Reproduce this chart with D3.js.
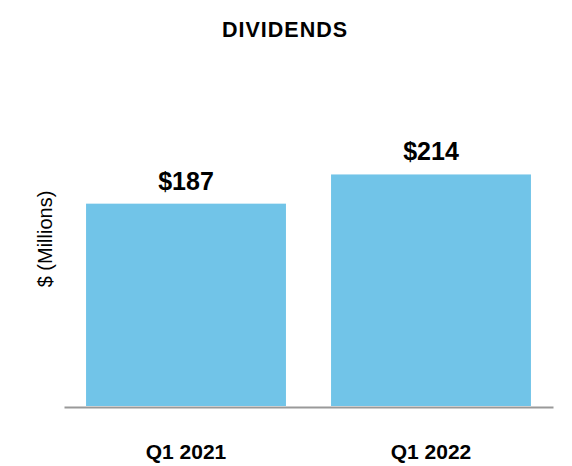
<!DOCTYPE html>
<html><head><meta charset="utf-8">
<script src="https://cdn.jsdelivr.net/npm/d3@7"></script>
<style>body{margin:0;background:#fff}svg{display:block;font-family:"Liberation Sans",Arial,sans-serif}</style>
</head><body>
<svg id="c" width="572" height="466"></svg>
<script>
const categories = ["Q1 2021", "Q1 2022"];
const values = [187, 214];
const valueLabels = ["$187", "$214"];
const title = "DIVIDENDS";
const yLabel = "$ (Millions)";

const svg = d3.select("#c");
const x = d3.scaleBand().domain(categories).range([64, 553]).paddingInner(0.184).paddingOuter(0.09);
const y = d3.scaleLinear().domain([0, 300]).range([406, 81.4]);

svg.append("text").attr("x", 285).attr("y", 37.3).attr("text-anchor", "middle")
  .attr("font-size", 21.5).attr("letter-spacing", 1).attr("font-weight", "bold").attr("fill", "#000").text(title);

svg.selectAll("rect.bar").data(values).join("rect").attr("class", "bar")
  .attr("x", (d, i) => x(categories[i])).attr("width", x.bandwidth())
  .attr("y", d => y(d)).attr("height", d => y(0) - y(d)).attr("fill", "#71C4E8");

svg.selectAll("text.val").data(values).join("text").attr("class", "val")
  .attr("x", (d, i) => x(categories[i]) + x.bandwidth() / 2).attr("y", d => y(d) - 14)
  .attr("text-anchor", "middle").attr("font-size", 25).attr("font-weight", "bold").attr("fill", "#000")
  .text((d, i) => valueLabels[i]);

const xAxis = svg.append("g").attr("transform", "translate(0,407)")
  .call(d3.axisBottom(x).tickSize(0).tickPadding(37));
xAxis.select(".domain").attr("stroke", "#999").attr("stroke-width", 2);
xAxis.selectAll("text").attr("font-size", 21).attr("font-weight", "bold").attr("fill", "#000")
  .attr("font-family", "'Liberation Sans', Arial, sans-serif");

svg.append("text").attr("transform", "translate(52,239) rotate(-90)").attr("text-anchor", "middle")
  .attr("font-size", 20).attr("fill", "#000").text(yLabel);
</script>
</body></html>
